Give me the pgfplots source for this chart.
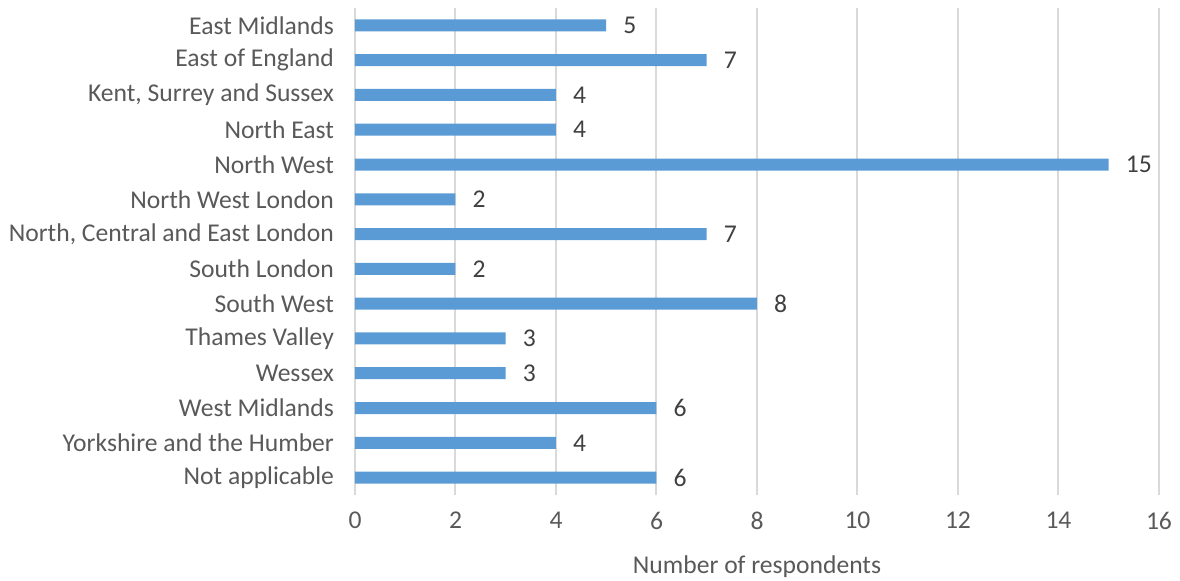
\documentclass[border=0pt]{standalone}
\usepackage{pgfplots}
\pgfplotsset{compat=1.18}
\usepackage{fontspec}
\setmainfont{Carlito}
\definecolor{barblue}{HTML}{5B9BD5}
\definecolor{gridgray}{HTML}{D9D9D9}
\definecolor{textgray}{HTML}{595959}
\definecolor{numgray}{HTML}{404040}
\begin{document}
\begin{tikzpicture}
\begin{axis}[
  at={(0,0)}, anchor=south west,
  scale only axis,
  width=402pt, height=243.5pt,
  xbar, bar width=6pt,
  xmin=0, xmax=16,
  ymin=-0.5, ymax=13.5,
  y dir=reverse,
  xtick={0,2,...,16},
  ytick={0,...,13},
  yticklabels={East Midlands, East of England, {Kent, Surrey and Sussex}, North East, North West, North West London, {North, Central and East London}, South London, South West, Thames Valley, Wessex, West Midlands, Yorkshire and the Humber, Not applicable},
  xmajorgrids, grid style={gridgray, line width=1pt},
  axis line style={draw=none},
  major tick length=0pt,
  tick label style={font=\fontsize{12.8}{15}\selectfont, text=textgray},
  /pgf/number format/assume math mode=true,
  xticklabel style={yshift=-5pt},
  yticklabel style={xshift=-7pt},
  xlabel={Number of respondents},
  xlabel style={font=\fontsize{12.8}{15}\selectfont, text=textgray, yshift=-6pt},
  nodes near coords,
  nodes near coords style={font=\fontsize{12.8}{15}\selectfont, text=numgray, anchor=west, xshift=5pt},
]
\addplot[fill=barblue, draw=none] coordinates {
(5,0) (7,1) (4,2) (4,3) (15,4) (2,5) (7,6) (2,7) (8,8) (3,9) (3,10) (6,11) (4,12) (6,13)
};
\end{axis}
\pgfresetboundingbox
\path (-177.5pt,-43pt) rectangle (412.5pt,247.5pt);
\end{tikzpicture}
\end{document}
